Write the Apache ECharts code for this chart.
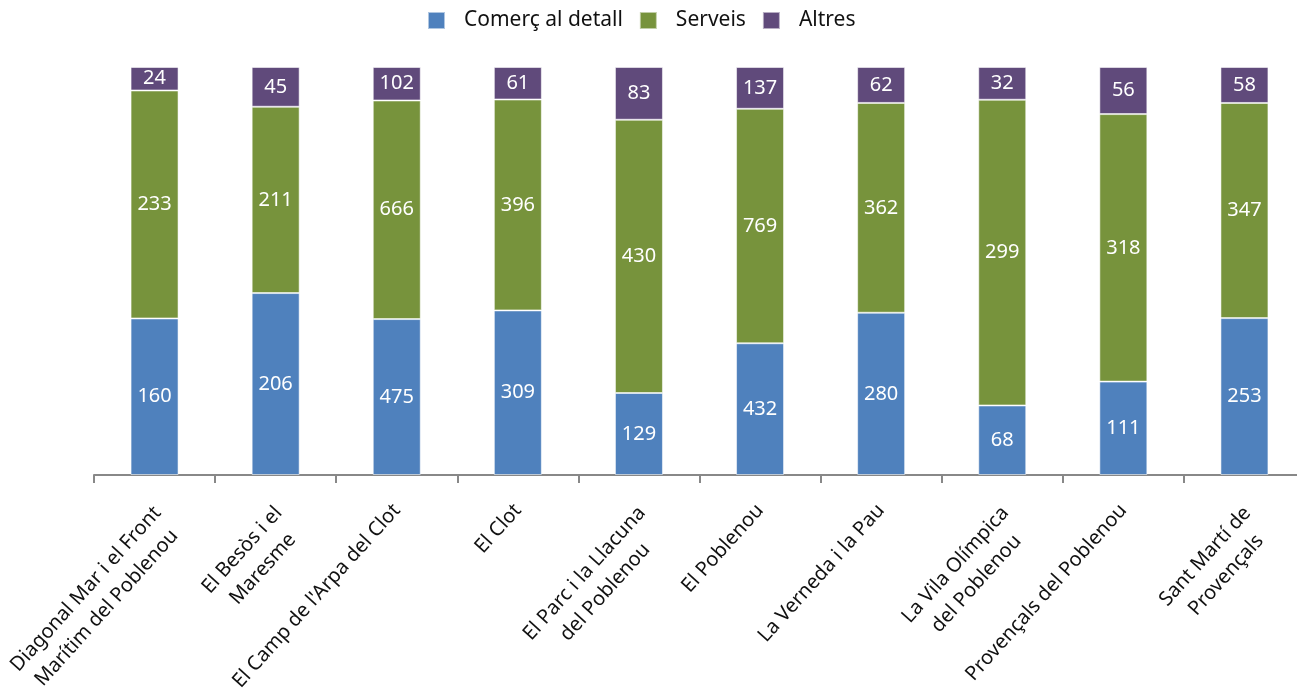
<!DOCTYPE html>
<html>
<head>
<meta charset="utf-8">
<script src="https://cdn.jsdelivr.net/npm/echarts@6/dist/echarts.min.js"></script>
<style>html,body{margin:0;padding:0;background:#fff}#c{width:1297px;height:697px}</style>
</head>
<body>
<div id="c"></div>
<script>
const categories = [
  'Diagonal Mar i el Front\nMarítim del Poblenou',
  'El Besòs i el\nMaresme',
  "El Camp de l'Arpa del Clot",
  'El Clot',
  'El Parc i la Llacuna\ndel Poblenou',
  'El Poblenou',
  'La Verneda i la Pau',
  'La Vila Olímpica\ndel Poblenou',
  'Provençals del Poblenou',
  'Sant Martí de\nProvençals'
];
const seriesNames = ['Comerç al detall', 'Serveis', 'Altres'];
const comerc = [160, 206, 475, 309, 129, 432, 280, 68, 111, 253];
const serveis = [233, 211, 666, 396, 430, 769, 362, 299, 318, 347];
const altres = [24, 45, 102, 61, 83, 137, 62, 32, 56, 58];
const colors = ['#4F81BD', '#77933C', '#604A7B'];

const raw = [comerc, serveis, altres];
const totals = categories.map((_, i) => comerc[i] + serveis[i] + altres[i]);

const chart = echarts.init(document.getElementById('c'));
const font = 'Noto Sans';

chart.setOption({
  animation: false,
  legend: {
    top: 5,
    left: 422,
    itemWidth: 17,
    itemHeight: 17,
    itemGap: 16,
    icon: 'rect',
    textStyle: { fontFamily: font, fontSize: 21, color: '#111', padding: [0, 0, 0, 14] },
    data: seriesNames
  },
  grid: { left: 94, top: 67, width: 1211, height: 408, containLabel: false, outerBoundsMode: 'none' },
  xAxis: {
    type: 'category',
    data: categories,
    axisLine: { lineStyle: { color: '#888', width: 2 } },
    axisTick: { show: true, length: 8, lineStyle: { color: '#888', width: 2 } },
    axisLabel: {
      rotate: 48,
      interval: 0,
      margin: 32,
      fontFamily: font,
      fontSize: 20,
      color: '#111',
      lineHeight: 28,
      formatter: v => {
        const lines = v.split('\n');
        const body = lines.map(s => '{c|' + s + '}').join('\n');
        return lines.length > 1 ? '{sp| }\n' + body : body;
      },
      rich: {
        c: { align: 'center', fontFamily: font, fontSize: 20, color: '#111', lineHeight: 28 },
        sp: { fontSize: 1, lineHeight: 36 }
      }
    }
  },
  yAxis: {
    type: 'value',
    min: 0,
    max: 1,
    show: false,
    splitLine: { show: false }
  },
  series: raw.map((arr, k) => ({
    name: seriesNames[k],
    type: 'bar',
    stack: 'total',
    barWidth: 48,
    itemStyle: { color: colors[k], borderColor: 'rgba(255,255,255,0.55)', borderWidth: 1 },
    label: {
      show: true,
      position: 'inside',
      color: '#fff',
      fontFamily: font,
      fontSize: 20,
      formatter: p => String(arr[p.dataIndex])
    },
    data: arr.map((v, i) => v / totals[i])
  }))
});
</script>
</body>
</html>
